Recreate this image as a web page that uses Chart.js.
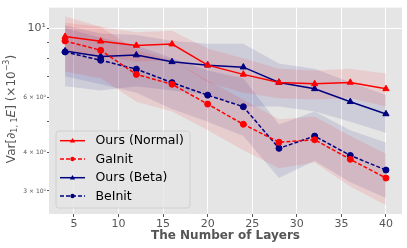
<!DOCTYPE html>
<html>
<head>
<meta charset="utf-8">
<script src="https://cdn.jsdelivr.net/npm/chart.js@4/dist/chart.umd.min.js"></script>
<style>
html, body { margin: 0; padding: 0; background: #fff; }
</style>
</head>
<body>
<canvas id="chart" width="407" height="248"></canvas>
<script>
// layers on the x axis
var layers = [4, 8, 12, 16, 20, 24, 28, 32, 36, 40];

// means
var oursNormal = [9.39, 9.07, 8.79, 8.88, 7.60, 7.10, 6.69, 6.62, 6.69, 6.38];
var gaInit     = [9.09, 8.48, 7.10, 6.60, 5.70, 4.91, 4.30, 4.38, 3.79, 3.30];
var oursBeta   = [8.44, 8.11, 8.19, 7.79, 7.60, 7.49, 6.69, 6.38, 5.80, 5.30];
var beInit     = [8.38, 7.88, 7.38, 6.68, 6.09, 5.59, 4.11, 4.50, 3.90, 3.50];

// shaded bands (upper / lower)
var oursNormalHi = [10.4, 10.1, 9.7, 9.8, 8.6, 8.0, 7.4, 7.3, 7.4, 7.15];
var oursNormalLo = [8.4, 8.1, 7.8, 7.9, 6.7, 6.2, 5.95, 5.9, 5.95, 5.6];
var gaInitHi     = [10.9, 10.1, 8.5, 7.9, 6.8, 5.9, 5.1, 5.2, 4.5, 3.95];
var gaInitLo     = [7.25, 6.9, 5.8, 5.4, 4.7, 4.05, 3.55, 3.7, 3.1, 2.7];
var oursBetaHi   = [10.2, 9.6, 9.5, 9.1, 8.9, 8.9, 7.7, 7.4, 6.7, 6.1];
var oursBetaLo   = [6.5, 6.3, 6.5, 6.3, 6.1, 5.6, 5.6, 5.4, 5.0, 4.6];
var beInitHi     = [10.0, 9.3, 8.8, 8.0, 7.3, 6.9, 4.9, 5.4, 4.7, 4.29];
var beInitLo     = [7.0, 6.6, 6.2, 5.5, 5.0, 4.5, 3.3, 3.75, 3.2, 2.85];

// tick labels
var xTicks = [5, 10, 15, 20, 25, 30, 35, 40];
var yTicks = [3, 4, 5, 6, 7, 8, 9, 10];
var yTickLabels = { 3: '3 × 10⁰', 4: '4 × 10⁰', 6: '6 × 10⁰', 10: '10¹' };

var RED = '#ff0000';
var NAVY = '#000080';
var TEXT = '#555555';
var FONT = '"DejaVu Sans", sans-serif';

function pts(arr) {
    return layers.map(function (x, i) { return { x: x, y: arr[i] }; });
}

function band(hi, lo, fillColor) {
    return [{
        data: pts(hi), fill: '+1', backgroundColor: fillColor,
        borderWidth: 0, pointRadius: 0, order: 10
    }, {
        data: pts(lo), fill: false, backgroundColor: fillColor,
        borderWidth: 0, pointRadius: 0, order: 10
    }];
}

function line(label, arr, color, style, dashed) {
    return {
        label: label, data: pts(arr), borderColor: color, backgroundColor: color,
        borderWidth: 1.5, borderDash: dashed ? [4, 2] : [], fill: false,
        pointStyle: style, pointRadius: style == 'triangle' ? 3.6 : 3,
        pointBorderWidth: 1, pointBackgroundColor: color, pointBorderColor: color,
        tension: 0, order: 1
    };
}

var series = [
    { label: 'Ours (Normal)', color: RED, style: 'triangle', dashed: false },
    { label: 'GaInit', color: RED, style: 'circle', dashed: true },
    { label: 'Ours (Beta)', color: NAVY, style: 'triangle', dashed: false },
    { label: 'BeInit', color: NAVY, style: 'circle', dashed: true }
];

var datasets = []
    .concat(band(oursNormalHi, oursNormalLo, 'rgba(255,0,0,0.1)'))
    .concat(band(gaInitHi, gaInitLo, 'rgba(255,0,0,0.1)'))
    .concat(band(oursBetaHi, oursBetaLo, 'rgba(0,0,128,0.1)'))
    .concat(band(beInitHi, beInitLo, 'rgba(0,0,128,0.1)'))
    .concat([
        line('Ours (Normal)', oursNormal, RED, 'triangle', false),
        line('GaInit', gaInit, RED, 'circle', true),
        line('Ours (Beta)', oursBeta, NAVY, 'triangle', false),
        line('BeInit', beInit, NAVY, 'circle', true)
    ]);

var bgPlugin = {
    id: 'bg',
    beforeDraw: function (chart) {
        var a = chart.chartArea, c = chart.ctx;
        c.save();
        c.fillStyle = '#e5e5e5';
        c.fillRect(a.left, a.top, a.right - a.left, a.bottom - a.top);
        c.restore();
    }
};

var textPlugin = {
    id: 'texts',
    afterDatasetsDraw: function (chart) {
        var c = chart.ctx, a = chart.chartArea;
        c.save();
        // legend box
        var bx = 56, by = 131, bw = 134, bh = 77;
        c.fillStyle = 'rgba(229,229,229,0.8)';
        c.strokeStyle = '#cccccc';
        c.lineWidth = 0.8;
        c.beginPath();
        c.roundRect(bx, by, bw, bh, 3);
        c.fill();
        c.stroke();
        var rows = [140.7, 159, 177.7, 196];
        series.forEach(function (s, i) {
            var y = rows[i];
            c.strokeStyle = s.color;
            c.fillStyle = s.color;
            c.lineWidth = 1.5;
            c.setLineDash(s.dashed ? [4, 2] : []);
            c.beginPath();
            c.moveTo(60, y);
            c.lineTo(85, y);
            c.stroke();
            c.setLineDash([]);
            c.beginPath();
            if (s.style == 'triangle') {
                c.moveTo(72.5, y - 2.8);
                c.lineTo(75.2, y + 1.8);
                c.lineTo(69.8, y + 1.8);
                c.closePath();
            } else {
                c.arc(72.5, y, 2.2, 0, Math.PI * 2);
            }
            c.fill();
            c.fillStyle = '#000';
            c.font = '12.5px ' + FONT;
            c.textBaseline = 'middle';
            c.textAlign = 'left';
            c.fillText(s.label, 95.5, y + 0.5);
        });
        // x axis title
        c.fillStyle = TEXT;
        c.font = 'bold 12px ' + FONT;
        c.textAlign = 'center';
        c.textBaseline = 'middle';
        c.fillText('The Number of Layers', (a.left + a.right) / 2, 236);
        // y axis title, rotated, centred on the plot
        var parts = [
            { t: 'Var[∂', f: '12px ' + FONT, dy: 0 },
            { t: '1, 1', f: '8px ' + FONT, dy: 3 },
            { t: 'E', f: 'italic 12px ' + FONT, dy: 0 },
            { t: '] (×10', f: '12px ' + FONT, dy: 0 },
            { t: '−3', f: '8px ' + FONT, dy: -5 },
            { t: ')', f: '12px ' + FONT, dy: 0 }
        ];
        var total = 0;
        parts.forEach(function (p) { c.font = p.f; total += c.measureText(p.t).width; });
        c.setTransform(0, -1, 1, 0, 12, 109 + total / 2);
        var x = 0;
        c.textAlign = 'left';
        parts.forEach(function (p) {
            c.font = p.f;
            c.fillText(p.t, x, p.dy);
            x += c.measureText(p.t).width;
        });
        c.restore();
    }
};

new Chart(document.getElementById('chart'), {
    type: 'line',
    data: { datasets: datasets },
    plugins: [bgPlugin, textPlugin],
    options: {
        responsive: false,
        animation: false,
        layout: { padding: { top: 5, right: 5, left: 0, bottom: 0 } },
        plugins: { legend: { display: false }, tooltip: { enabled: false } },
        scales: {
            x: {
                type: 'linear', min: 2.2, max: 41.8,
                afterBuildTicks: function (s) { s.ticks = xTicks.map(function (v) { return { value: v }; }); },
                afterFit: function (s) { s.height = 34; },
                border: { display: false },
                grid: { color: '#ffffff', lineWidth: 1, tickColor: TEXT, tickLength: 3 },
                ticks: { color: TEXT, font: { family: FONT, size: 11 }, padding: 1, autoSkip: false, maxRotation: 0 }
            },
            y: {
                type: 'logarithmic', min: 2.53, max: 11.63,
                afterBuildTicks: function (s) { s.ticks = yTicks.map(function (v) { return { value: v, major: v == 10 }; }); },
                afterFit: function (s) { s.width = 49; },
                border: { display: false },
                grid: {
                    color: function (ctx) { return ctx.tick && ctx.tick.value == 10 ? '#ffffff' : 'rgba(0,0,0,0)'; },
                    tickColor: TEXT,
                    tickLength: function (ctx) { return ctx.tick && ctx.tick.value == 10 ? 3.5 : 2; },
                    lineWidth: 1
                },
                ticks: {
                    color: TEXT, autoSkip: false, padding: 1,
                    font: function (ctx) { return { family: FONT, size: ctx.tick && ctx.tick.value == 10 ? 11 : 6 }; },
                    callback: function (v) { return yTickLabels[v] || ''; }
                }
            }
        }
    }
});
</script>
</body>
</html>
